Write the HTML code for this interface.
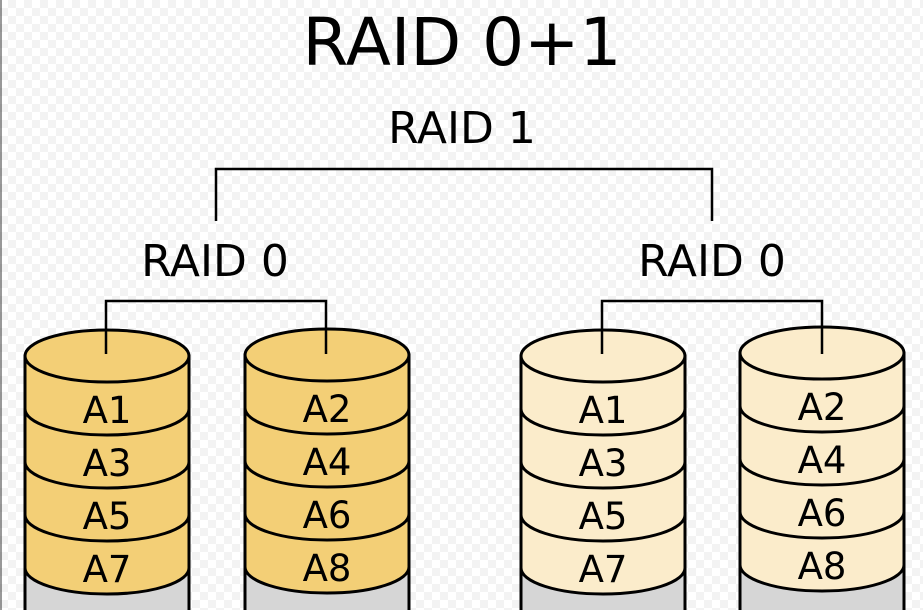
<!DOCTYPE html>
<html><head><meta charset="utf-8"><style>
html,body{margin:0;padding:0;}
body{width:923px;height:610px;overflow:hidden;background-color:#fff;
background-image:linear-gradient(45deg,#f3f3f3 25%,transparent 25%,transparent 75%,#f3f3f3 75%),linear-gradient(45deg,#f3f3f3 25%,transparent 25%,transparent 75%,#f3f3f3 75%);
background-size:16px 16px;background-position:0 0,8px 8px;}
svg{position:absolute;left:0;top:0;}
text{font-family:"DejaVu Sans","Liberation Sans",sans-serif;fill:#000;text-anchor:middle;}
</style></head><body>
<svg width="923" height="610" viewBox="0 0 923 610">
<defs>
<g id="shape" stroke="#000" stroke-width="3">
<rect x="-82" y="0" width="164" height="280" fill="#d6d6d6"/>
<path d="M-82 159 L-82 212 A82 26 0 0 0 82 212 L82 159 Z"/>
<path d="M-82 106 L-82 159 A82 26 0 0 0 82 159 L82 106 Z"/>
<path d="M-82 53 L-82 106 A82 26 0 0 0 82 106 L82 53 Z"/>
<path d="M-82 0 L-82 53 A82 26 0 0 0 82 53 L82 0 Z"/>
<ellipse cx="0" cy="0" rx="82" ry="26"/>
</g>
</defs>
<line x1="1" y1="0" x2="1" y2="610" stroke="#333" stroke-width="1"/>
<text x="462" y="65" font-size="66">RAID 0+1</text>
<text x="462" y="143" font-size="44">RAID 1</text>
<text x="215" y="276" font-size="44">RAID 0</text>
<text x="712" y="276" font-size="44">RAID 0</text>
<g fill="none" stroke="#000" stroke-width="2.5">
<path d="M216 221 V169 H712 V221"/>
</g>

<g transform="translate(107,356)" font-size="37">
<use href="#shape" fill="#f3cf76"/>
<text x="0" y="67">A1</text><text x="0" y="120">A3</text><text x="0" y="173">A5</text><text x="0" y="226">A7</text>
</g>
<g transform="translate(327,355)" font-size="37">
<use href="#shape" fill="#f3cf76"/>
<text x="0" y="67">A2</text><text x="0" y="120">A4</text><text x="0" y="173">A6</text><text x="0" y="226">A8</text>
</g>
<g transform="translate(603,356)" font-size="37">
<use href="#shape" fill="#fbeccb"/>
<text x="0" y="67">A1</text><text x="0" y="120">A3</text><text x="0" y="173">A5</text><text x="0" y="226">A7</text>
</g>
<g transform="translate(822,353)" font-size="37">
<use href="#shape" fill="#fbeccb"/>
<text x="0" y="67">A2</text><text x="0" y="120">A4</text><text x="0" y="173">A6</text><text x="0" y="226">A8</text>
</g>

<g fill="none" stroke="#000" stroke-width="2.5">
<path d="M106 354 V301 H326 V354"/>
<path d="M602 354 V301 H822 V354"/>
</g>
</svg>
</body></html>
